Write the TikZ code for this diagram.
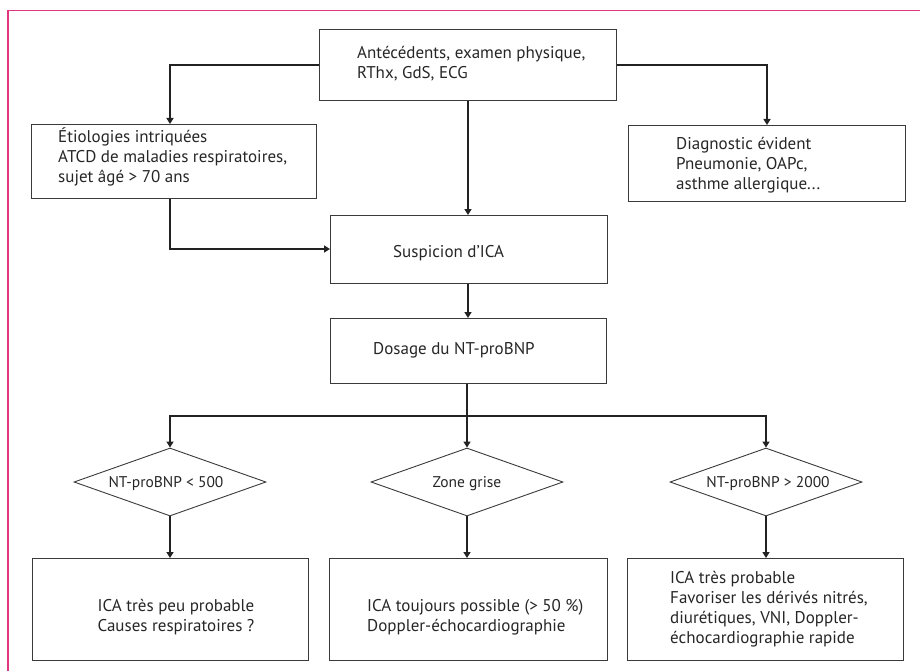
\documentclass[tikz,border=0pt]{standalone}
\usepackage{fontspec}
\setmainfont{PT Sans}
\usetikzlibrary{arrows.meta,shapes.geometric,calc}
\definecolor{framepink}{HTML}{E0357F}
\definecolor{boxline}{HTML}{3A3A3A}
\definecolor{conn}{HTML}{222222}
\begin{document}
\begin{tikzpicture}[x=1pt,y=-1pt,
  box/.style={draw=boxline,line width=0.9pt,rectangle,inner sep=0pt,anchor=north west},
  dia/.style={draw=boxline,line width=0.9pt,diamond,inner sep=0pt,minimum width=192pt,minimum height=68pt,aspect=2.8},
  txt/.style={align=left,inner sep=0pt,font=\fontsize{17}{20}\selectfont,text=black!85},
  ctxt/.style={align=center,inner sep=0pt,font=\fontsize{17}{20}\selectfont,text=black!85},
  dtxt/.style={align=center,inner sep=0pt,font=\fontsize{15.5}{19}\selectfont,text=black!85},
  conn/.style={draw=conn,line width=1.8pt,-{Triangle[width=7pt,length=6pt]}},
  plain/.style={draw=conn,line width=1.8pt}]
\useasboundingbox (0,0) rectangle (920,671);
% frame
\draw[framepink,line width=1.1pt] (8,671) -- (8,10.5) -- (920,10.5);
% boxes
\node[box,minimum width=297pt,minimum height=71pt] (top) at (319,29) {};
\node[txt,anchor=west] (topt) at (357,64) {Antécédents, examen physique,\\RThx, GdS, ECG};
\node[box,minimum width=285pt,minimum height=74pt] (left) at (31,124) {};
\node[txt,anchor=west] (leftt) at (58,157) {Étiologies intriquées\\ATCD de maladies respiratoires,\\sujet âgé > 70 ans};
\node[box,minimum width=277pt,minimum height=76pt] (right) at (628,125) {};
\node[txt,anchor=west] (rightt) at (676,165) {Diagnostic évident\\Pneumonie, OAPc,\\asthme allergique...};
\node[box,minimum width=277pt,minimum height=68pt] (susp) at (330,215) {};
\node[txt,anchor=west] (suspt) at (393,253) {Suspicion d’ICA};
\node[box,minimum width=276pt,minimum height=65pt] (dos) at (330,318) {};
\node[txt,anchor=west] (dost) at (373,350) {Dosage du NT-proBNP};
% diamonds
\node[dia] (d1) at (170,482) {};
\node[dtxt] (d1t) at (166,484) {NT-proBNP < 500};
\node[dia] (d2) at (467,482) {};
\node[dtxt] (d2t) at (467,484) {Zone grise};
\node[dia] (d3) at (766,482) {};
\node[dtxt] (d3t) at (768,484) {NT-proBNP > 2000};
% bottom boxes
\node[box,minimum width=276pt,minimum height=102pt] (b1) at (32,558) {};
\node[ctxt] (b1t) at (176,617) {ICA très peu probable\\Causes respiratoires ?};
\node[box,minimum width=278pt,minimum height=102pt] (b2) at (329,558) {};
\node[txt,anchor=west] (b2t) at (367,617) {ICA toujours possible (> 50 \%)\\Doppler-échocardiographie};
\node[box,minimum width=276pt,minimum height=102pt] (b3) at (627,558) {};
\node[txt,anchor=west] (b3t) at (670,609) {ICA très probable\\Favoriser les dérivés nitrés,\\diurétiques, VNI, Doppler-\\échocardiographie rapide};
% connectors
\coordinate (tl) at (top.west |- 0,65);
\coordinate (tr) at (top.east |- 0,65);
\draw[conn] (tl) -| (left.north -| 170,0);
\draw[conn] (tr) -| (right.north -| 767,0);
\draw[conn] (top.south -| 468,0) -- (susp.north -| 468,0);
\draw[conn] (left.south -| 170,0) |- (susp.west |- 0,249);
\draw[conn] (susp.south -| 468,0) -- (dos.north -| 468,0);
\coordinate (j) at (467,416);
\draw[plain] (dos.south -| 467,0) -- (j);
\draw[conn] (j) -| (d1.north);
\draw[conn] (j) -| (d3.north);
\draw[conn] (j) -- (d2.north);
\draw[conn] (d1.south) -- (b1.north -| d1.south);
\draw[conn] (d2.south) -- (b2.north -| d2.south);
\draw[conn] (d3.south) -- (b3.north -| d3.south);
\end{tikzpicture}
\end{document}
